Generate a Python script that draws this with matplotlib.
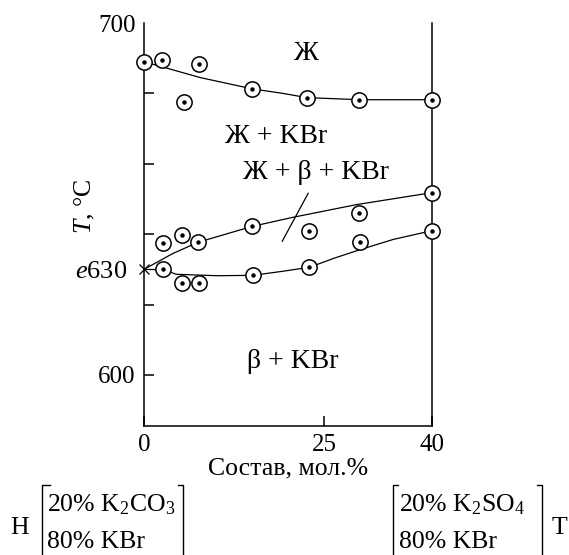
import matplotlib
matplotlib.use('Agg')
from matplotlib import pyplot as plt
from matplotlib.lines import Line2D

plt.rcParams['font.family'] = ['Liberation Serif', 'DejaVu Serif']
plt.rcParams['mathtext.fontset'] = 'custom'
plt.rcParams['mathtext.rm'] = 'Liberation Serif'
plt.rcParams['mathtext.it'] = 'Liberation Serif:italic'

# экспериментальные точки (состав, мол.%; T, °C)
points_x = [0, 2.5, 7.6, 5.6, 15.0, 22.6, 29.9, 40,
            2.7, 5.3, 7.5, 15.0, 22.9, 29.9, 40,
            2.7, 5.3, 7.6, 15.1, 22.9, 30.0, 40]
points_t = [689, 689.5, 688.4, 677.6, 681.3, 678.8, 678.2, 678.2,
            637.4, 639.7, 637.7, 642.2, 640.8, 645.9, 651.8,
            630.0, 626.1, 626.1, 628.3, 630.6, 637.7, 640.8]

# линии диаграммы
liquidus_x = [0, 7.8, 15.0, 19.3, 22.6, 26.3, 29.9, 35.6, 40]
liquidus_t = [689, 684.5, 681.3, 680.0, 678.8, 678.5, 678.2, 678.2, 678.2]
middle_x = [0, 4.0, 7.5, 11.5, 15.0, 20.7, 29.5, 40]
middle_t = [630, 634.5, 637.7, 640.1, 642.2, 644.8, 648.4, 651.8]
solidus_x = [0, 2.7, 4.5, 10.1, 15.1, 19.4, 23.0, 26.3, 30.0, 34.6, 40]
solidus_t = [630, 629.9, 628.6, 628.2, 628.3, 629.5, 630.6, 633.1, 635.6, 638.5, 641.0]
tie_x = [22.8, 19.2]
tie_t = [651.6, 638.0]

eutectic_x = 0
eutectic_t = 630

major_yticks = [600, 620, 640, 660, 680, 700]
major_ylabels = ['600', '', '', '', '', '700']
xticks = [0, 25, 40]

fig = plt.figure(figsize=(5.69, 5.55), dpi=100)
W, H = 569, 555
ax = fig.add_axes([144 / W, 1 - 426 / H, 288 / W, 403 / H])

ax.set_xlim(0, 40)
ax.set_ylim(585.5, 700)

for xs, ts in [(liquidus_x, liquidus_t), (middle_x, middle_t), (solidus_x, solidus_t), (tie_x, tie_t)]:
    ax.plot(xs, ts, color='black', lw=0.9, zorder=2)

ax.plot(points_x, points_t, ls='none', marker='o', ms=11, mfc='white', mec='black', mew=1.1, zorder=3, clip_on=False)
ax.plot(points_x, points_t, ls='none', marker='o', ms=2.2, mfc='black', mec='black', zorder=4, clip_on=False)
ax.plot([eutectic_x], [eutectic_t], ls='none', marker='x', ms=7, mec='black', mew=0.9, zorder=3, clip_on=False)

ax.spines['top'].set_visible(False)
for s in ['left', 'bottom', 'right']:
    ax.spines[s].set_linewidth(1.1)

ax.set_yticks(major_yticks)
ax.set_yticklabels(major_ylabels)
ax.set_yticks([eutectic_t], minor=True)
ax.set_yticklabels(['$e$630'], minor=True)
ax.yaxis.get_major_ticks()[-1].tick1line.set_visible(False)
ax.tick_params(axis='y', which='major', direction='in', length=7, width=1.1, pad=6, labelsize=18)
ax.tick_params(axis='y', which='minor', length=0, pad=12, labelsize=19)

ax.set_xticks(xticks)
ax.tick_params(axis='x', direction='in', length=7, width=1.1, pad=6, labelsize=18)
ax.set_xlabel('Состав, мол.%', fontsize=18.5, labelpad=1)
ax.set_ylabel('$T$, °C', fontsize=18.5)
ax.yaxis.set_label_coords((97 - 144) / 288, (426 - 206) / 403)

ax.text(22.5, 691.2, 'Ж', fontsize=20, ha='center', va='center')
ax.text(18.4, 667.7, 'Ж + KBr', fontsize=20, ha='center', va='center')
ax.text(23.9, 657.5, 'Ж + β + KBr', fontsize=20, ha='center', va='center')
ax.text(20.6, 603.7, 'β + KBr', fontsize=20, ha='center', va='center')

# подписи компонентов под осью
fig.text(20 / W, 1 - 528 / H, 'Н', fontsize=18.5, ha='center', va='center')
fig.text(47 / W, 1 - 505 / H, '20% $\\mathrm{K_2CO_3}$', fontsize=18.5, ha='left', va='center')
fig.text(47 / W, 1 - 542 / H, '80% KBr', fontsize=18.5, ha='left', va='center')
fig.text(399 / W, 1 - 505 / H, '20% $\\mathrm{K_2SO_4}$', fontsize=18.5, ha='left', va='center')
fig.text(399 / W, 1 - 542 / H, '80% KBr', fontsize=18.5, ha='left', va='center')
fig.text(559 / W, 1 - 528 / H, 'Т', fontsize=18.5, ha='center', va='center')

def bracket(x_line, x_hook):
    fig.add_artist(Line2D([x_hook / W, x_line / W, x_line / W], [1 - 485 / H, 1 - 485 / H, 0],
                          transform=fig.transFigure, color='black', lw=1.0))

bracket(42, 50)
bracket(183, 178)
bracket(393, 398)
bracket(542, 537)

fig.savefig('out.png', dpi=100)
